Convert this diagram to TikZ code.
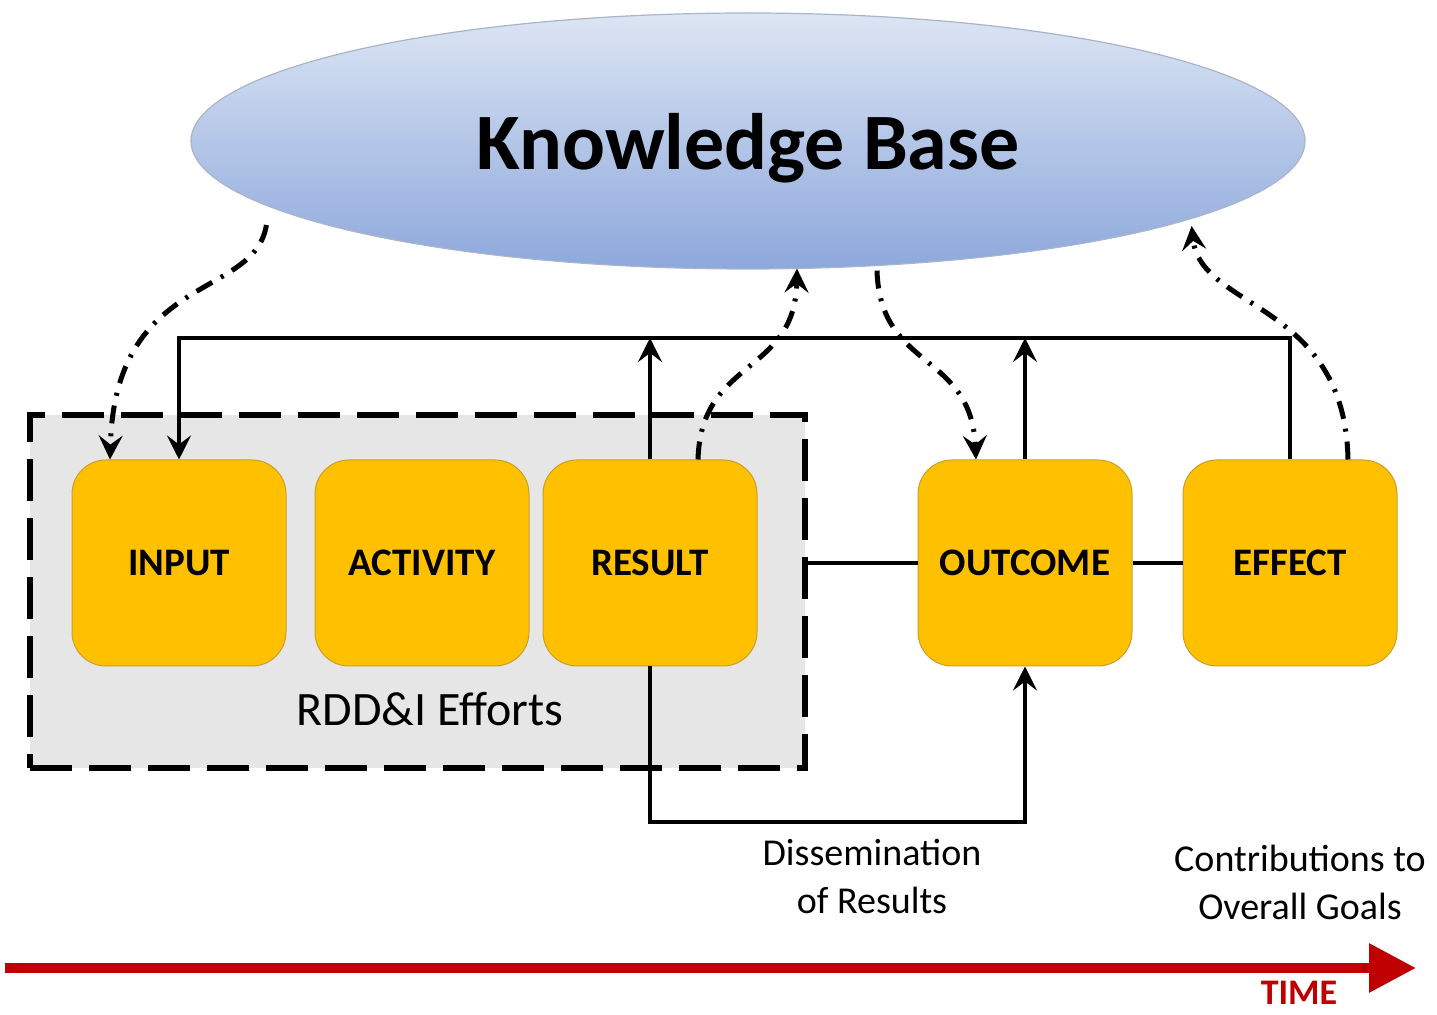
\documentclass[tikz,border=0pt]{standalone}
\usepackage{fontspec}
\setmainfont{Carlito}
\usetikzlibrary{positioning,calc}
\usetikzlibrary{shapes.geometric}
\usetikzlibrary{arrows.meta}

\definecolor{kbtop}{RGB}{220,229,243}
\definecolor{kbbottom}{RGB}{141,168,220}
\definecolor{kbedge}{RGB}{170,180,200}
\definecolor{boxyellow}{RGB}{255,192,0}
\definecolor{boxedge}{RGB}{200,160,40}
\definecolor{effortgray}{RGB}{230,230,230}
\definecolor{timered}{RGB}{192,0,0}

\tikzset{
  >={Stealth[length=12pt,width=12pt,inset=4.5pt]},
  kbase/.style={ellipse, minimum width=557pt, minimum height=128pt, inner sep=0pt,
    top color=kbtop, bottom color=kbbottom, draw=kbedge, line width=0.6pt,
    text depth=0pt, font=\fontsize{40}{48}\selectfont\bfseries},
  block/.style={rounded corners=17pt, fill=boxyellow, draw=boxedge, line width=0.5pt,
    minimum width=107pt, minimum height=103pt, inner sep=0pt,
    font=\fontsize{19.5}{23}\selectfont\bfseries},
  effort/.style={fill=effortgray, draw=black, line width=3pt, dash pattern=on 21pt off 8.5pt,
    minimum width=387.5pt, minimum height=176.5pt, inner sep=0pt},
  flow/.style={draw=black, line width=2.2pt},
  kbflow/.style={draw=black, line width=2.5pt, dash pattern=on 9pt off 5pt on 1.5pt off 5pt},
  note/.style={align=center, font=\fontsize{19}{24}\selectfont},
  timeline/.style={draw=timered, line width=5pt, -{Triangle[length=23.5pt,width=23.5pt]}}
}

\begin{document}
\begin{tikzpicture}[x=0.5pt,y=-0.5pt]
  \useasboundingbox (0,0) rectangle (1437,1015);

  \node (kb) [kbase] at (748,141) {Knowledge Base};

  \node (rdd) [effort] at (417.5,591.5) {};
  \node (efforts) at (430,709) {\fontsize{24}{29}\selectfont RDD\&I Efforts};

  \node (input) [block] at (179,563) {INPUT};
  \node (activity) [block, right=14pt of input] {ACTIVITY};
  \node (result) [block, right=6.5pt of activity] {RESULT};
  \node (outcome) [block, right=80pt of result] {OUTCOME};
  \node (effect) [block, right=25pt of outcome] {EFFECT};

  \coordinate (top) at (0,338);
  \coordinate (bottom) at (0,822);

  \draw[flow,->] (effect.north) -- (effect.north |- top) -| (input.north);
  \draw[flow,->] (result.north) -- (result.north |- top);
  \draw[flow,->] (outcome.north) -- (outcome.north |- top);
  \draw[flow] (rdd.east |- outcome.west) -- (outcome.west);
  \draw[flow] (outcome.east) -- (effect.west);
  \draw[flow,->] (result.south) -- (result.south |- bottom) -| (outcome.south);

  \draw[kbflow,->] ($(kb.west)+(76,84)$) .. controls +(-12,75) and +(5,-188) .. ([xshift=-34.5pt]input.north);
  \draw[kbflow,->] ([xshift=24pt]result.north) .. controls +(3,-102) and +(-2,107) .. ($(kb.south)+(49,-1)$);
  \draw[kbflow,->] ($(kb.south)+(129,1)$) .. controls +(3,100) and +(-5,-108) .. ([xshift=-24.5pt]outcome.north);
  \draw[kbflow,->] ([xshift=29pt]effect.north) .. controls +(-3,-158) and +(9,84) .. ($(kb.east)+(-114,85)$);

  \node (dissem) [note] at (872,877) {Dissemination\\of Results};
  \node (contrib) [note] at (1300,882) {Contributions to\\Overall Goals};

  \coordinate (t0) at (5,968);
  \coordinate (t1) at (1416,968);
  \draw[timeline] (t0) -- (t1);
  \node (time) [inner sep=0pt] at (1299,993) {\color{timered}\fontsize{18}{22}\selectfont\bfseries TIME};
\end{tikzpicture}
\end{document}
